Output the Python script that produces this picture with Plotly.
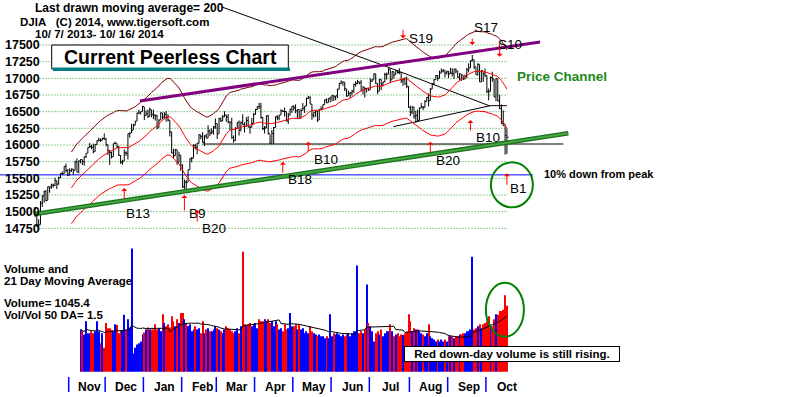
import numpy as np
import pandas as pd
import plotly.graph_objects as go

# ---------------- DATA (DJIA daily, 10/7/2013 - 10/16/2014) ----------------
c_oct13 = [14936,14776,14802,15126,15237,15301,15168,15373,15371,15399,15392,15467,15413,15509,15570,15568,15680,15618,15546]
c_nov13 = [15615,15639,15618,15746,15593,15761,15783,15751,15822,15876,15962,15976,15968,15900,16009,16065,16073,16072,16097,16086]
c_dec13 = [16008,15915,15889,15822,16020,16025,15973,15844,15740,15755,15884,15875,16168,16180,16221,16295,16358,16479,16479,16505,16577]
c_jan14 = [16441,16470,16425,16531,16462,16445,16437,16257,16374,16482,16418,16459,16415,16374,16198,15880,15838,15929,15739,15849,15699]
c_feb14 = [15373,15445,15441,15629,15794,15801,15994,15964,16027,16154,16130,16040,16134,16104,16208,16179,16198,16272,16322]
c_mar14 = [16168,16395,16361,16422,16453,16419,16351,16341,16109,16066,16247,16337,16223,16332,16303,16277,16368,16268,16264,16324,16458]
c_apr14 = [16533,16573,16572,16413,16246,16257,16438,16171,16027,16174,16263,16425,16409,16449,16514,16502,16501,16361,16448,16535,16581]
c_may14 = [16559,16513,16531,16402,16518,16551,16584,16696,16716,16614,16447,16491,16512,16374,16533,16543,16606,16676,16633,16699,16717]
c_jun14 = [16743,16722,16738,16836,16924,16943,16945,16843,16734,16776,16781,16808,16907,16921,16947,16937,16818,16868,16846,16851,16827]
c_jul14 = [16956,16976,17068,16925,16806,16985,16915,16944,17055,17061,17138,16977,17100,17052,17114,17087,17084,16961,16983,16913,16881,16563]
c_aug14 = [16493,16570,16430,16444,16369,16554,16570,16561,16652,16714,16663,16839,16920,16980,17040,17001,17077,17107,17122,17080,17098]
c_sep14 = [17068,17079,17070,17138,17112,17014,17068,17050,16988,17032,17131,17157,17266,17280,17173,17056,17211,16946,17113,17071,17043]
c_oct14 = [16805,16801,17009,16992,16720,16995,16660,16544,16321,16316,16142,16117]

h_oct13 = [15072,14946,14885,15160,15248,15316,15326,15376,15373,15420,15420,15510,15465,15525,15580,15604,15680,15721,15640]
h_nov13 = [15651,15647,15640,15764,15797,15765,15783,15780,15825,15876,15962,16030,16004,16020,16015,16066,16110,16097,16109,16174]
h_dec13 = [16107,16005,15926,15900,16021,16051,16025,15989,15849,15777,15934,15904,16168,16190,16318,16318,16361,16484,16529,16505,16588]
h_jan14 = [16573,16519,16532,16562,16529,16530,16462,16453,16383,16489,16481,16493,16511,16460,16373,16197,15942,15942,15928,15898,15848]
h_feb14 = [15708,15481,15478,15631,15798,15818,16012,16018,16031,16163,16153,16193,16148,16169,16296,16234,16250,16284,16398]
h_mar14 = [16320,16407,16413,16450,16505,16452,16465,16351,16410,16143,16269,16343,16368,16354,16461,16341,16417,16431,16284,16404,16479]
h_apr14 = [16540,16583,16632,16631,16422,16285,16440,16452,16160,16227,16270,16427,16447,16451,16535,16527,16562,16500,16483,16544,16581]
h_may14 = [16599,16611,16531,16531,16547,16631,16584,16712,16736,16729,16612,16491,16513,16512,16542,16580,16607,16682,16700,16700,16718]
h_jun14 = [16743,16743,16738,16845,16933,16970,16947,16944,16844,16817,16792,16828,16920,16956,16978,16951,16977,16879,16867,16855,16860]
h_jul14 = [17003,16993,17074,17067,16924,16988,16986,16951,17083,17088,17152,17138,17106,17099,17123,17122,17151,17077,16995,17015,17027,16880]
h_aug14 = [16589,16583,16572,16514,16530,16562,16631,16585,16673,16719,16774,16856,16928,16988,17049,17050,17115,17147,17136,17123,17115]
h_sep14 = [17111,17157,17154,17141,17148,17111,17073,17061,17049,17057,17158,17224,17267,17350,17280,17172,17225,17208,17125,17105,17148]
h_oct14 = [17042,16847,17027,17099,16990,17000,16995,16755,16607,16519,16311,16250]

l_oct13 = [14926,14772,14719,14805,15070,15133,15152,15170,15284,15342,15360,15385,15340,15405,15505,15550,15570,15587,15533]
l_nov13 = [15545,15594,15550,15620,15593,15576,15725,15700,15690,15805,15880,15960,15935,15875,15900,16002,16055,16044,16069,16080]
l_dec13 = [15980,15849,15703,15800,15822,16018,15950,15836,15718,15703,15760,15838,15783,16110,16180,16225,16294,16360,16468,16457,16504]
l_jan14 = [16375,16440,16405,16426,16416,16388,16368,16236,16259,16374,16385,16391,16350,16353,16128,15879,15796,15838,15703,15739,15610]
l_feb14 = [15356,15341,15340,15443,15630,15739,15801,15930,15864,16020,16086,16035,15983,16100,16104,16135,16163,16155,16242]
l_mar14 = [16090,16168,16346,16360,16420,16348,16323,16227,16094,16034,16066,16246,16142,16206,16303,16186,16280,16266,16169,16265,16325]
l_apr14 = [16458,16523,16539,16394,16223,16173,16249,16155,16015,16029,16015,16263,16370,16372,16450,16497,16429,16353,16316,16446,16480]
l_may14 = [16514,16476,16391,16402,16402,16518,16481,16584,16690,16613,16378,16407,16423,16345,16374,16527,16543,16606,16632,16634,16637]
l_jun14 = [16653,16659,16671,16702,16837,16912,16886,16808,16725,16735,16705,16743,16780,16874,16914,16912,16807,16759,16713,16787,16812]
l_jul14 = [16828,16947,16980,16917,16763,16806,16825,16886,16944,16981,17061,16928,16979,16998,17052,17073,17062,16931,16885,16910,16852,16563]
l_aug14 = [16433,16464,16393,16333,16348,16369,16554,16522,16561,16651,16579,16664,16839,16896,16979,16961,17001,17077,17087,17015,17056]
l_sep14 = [17006,17069,17031,16992,17075,17010,16967,16961,16974,16987,17002,17090,17157,17252,17138,17055,17040,16946,16946,16945,17020]
l_oct14 = [16776,16671,16805,16947,16719,16660,16655,16540,16321,16282,15855,15865]

# volume (first drawn bar is trading day #25)
VOL_START = 25
v_nov13 = [670,640,590,800,610,610,640,610,640,800,640,450,610,380]
v_dec13 = [770,690,690,660,640,750,740,610,660,660,900,670,830,700,1950,290,380,430,450,480,590]
v_jan14 = [620,670,700,670,670,670,750,670,690,640,910,770,720,750,700,880,800,720,830,770,930]
v_feb14 = [930,830,770,720,750,640,670,720,670,690,610,800,610,670,690,640,640,670,720]
v_mar14 = [690,670,640,610,670,720,690,670,640,610,640,690,610,720,1900,750,720,750,770,720,750]
v_apr14 = [770,690,830,800,800,830,800,830,770,800,720,800,750,670,690,640,750,670,690,930,720]
v_may14 = [720,750,670,750,670,690,610,640,610,720,640,610,590,560,590,560,560,530,560,530,910]
v_jun14 = [560,610,590,610,590,560,590,560,590,610,560,610,640,640,1680,610,640,610,670,1380,770]
v_jul14 = [720,640,480,610,640,590,670,560,610,640,640,750,640,560,590,610,560,590,580,610,640,910]
v_aug14 = [800,640,690,670,670,640,610,590,560,610,750,560,530,510,480,510,480,510,480,510,480]
v_sep14 = [560,560,560,530,560,560,590,590,610,610,640,640,670,1820,670,690,720,750,690,750,770]
v_oct14 = [800,880,750,720,830,910,900,960,960,980,1210,1045.4]

closes = c_oct13+c_nov13+c_dec13+c_jan14+c_feb14+c_mar14+c_apr14+c_may14+c_jun14+c_jul14+c_aug14+c_sep14+c_oct14
highs = h_oct13+h_nov13+h_dec13+h_jan14+h_feb14+h_mar14+h_apr14+h_may14+h_jun14+h_jul14+h_aug14+h_sep14+h_oct14
lows = l_oct13+l_nov13+l_dec13+l_jan14+l_feb14+l_mar14+l_apr14+l_may14+l_jun14+l_jul14+l_aug14+l_sep14+l_oct14
volumes = v_nov13+v_dec13+v_jan14+v_feb14+v_mar14+v_apr14+v_may14+v_jun14+v_jul14+v_aug14+v_sep14+v_oct14

month_names = ["Nov","Dec","Jan","Feb","Mar","Apr","May","Jun","Jul","Aug","Sep","Oct"]
month_first_day = [19,39,60,81,100,121,142,163,184,206,227,248]
price_ticks = [17500,17250,17000,16750,16500,16250,16000,15750,15500,15250,15000,14750]

# Peerless signals: name, trading-day index, arrow tip level
sig_names = ["B13","B9","B20","B18","B10","B20","B10","B1","S19","S17","S10"]
sig_days  = [49,82,89,136,150,217,239,259,202,240,255]
sig_level = [15355,15250,15025,15750,16050,16050,16375,15575,17600,17500,17325]

# hand-drawn trend lines (trading-day index, level)
chan_top_x, chan_top_y = [57.6, 277.2], [16660, 17545]
chan_bot_x, chan_bot_y = [0, 292.7], [14965, 16175]
support_x, support_y = [92, 290], [16015, 16015]
wedge_x, wedge_y = [196.7, 250, 259], [16275, 16590, 16590]
pointer_x, pointer_y = [102.6, 192.1, 249.7], [18070, 17185, 16585]
PEAK_DROP = 0.10

# ---------------- STYLE / GEOMETRY ----------------
W, H = 800, 397
X0_PX, PX_PER_DAY = 35.0, 1.822
PRICE_PX = 240
PRICE_RANGE = [14575, 18175]
VOL_RANGE = [-400, 2085]
BAND = 0.035
GRID_X = (2.5, 259.5)
FONT = "Liberation Sans, Arial, sans-serif"
RED, BLUE, MAROON = "#ff0000", "#0000ff", "#800000"
GREEN = "#1a8a1a"

def px_to_paper_y(py):
    return 1 - py / H

n = len(closes)
days = np.arange(n)
x_range = [-X0_PX / PX_PER_DAY, (W - X0_PX) / PX_PER_DAY]

fig = go.Figure()

# dotted grid
gx, gy = [], []
for t in price_ticks:
    gx += [GRID_X[0], GRID_X[1], None]
    gy += [t, t, None]
fig.add_trace(go.Scatter(x=gx, y=gy, mode="lines",
                         line=dict(color="#2e9a2e", width=1, dash="1px,2px"), hoverinfo="skip"))

# 10% down from peak line
drop_level = max(closes) * (1 - PEAK_DROP)
fig.add_trace(go.Scatter(x=[x_range[0], 273.3], y=[drop_level, drop_level], mode="lines",
                         line=dict(color=BLUE, width=1)))

# support / wedge / pointer lines
for lx, ly in [(support_x, support_y), (wedge_x, wedge_y), (pointer_x, pointer_y)]:
    fig.add_trace(go.Scatter(x=lx, y=ly, mode="lines", line=dict(color="black", width=1)))

# price bars (high-low with close tick)
bx, by = [], []
for i in range(n):
    bx += [i, i, None, i, i + 0.9, None]
    by += [lows[i], highs[i], None, closes[i], closes[i], None]
fig.add_trace(go.Scatter(x=bx, y=by, mode="lines", line=dict(color="black", width=1)))

# moving average and bands
ma21 = pd.Series(closes, dtype=float).rolling(21).mean()
fig.add_trace(go.Scatter(x=days, y=ma21 * (1 + BAND), mode="lines", line=dict(color=MAROON, width=1)))
fig.add_trace(go.Scatter(x=days, y=ma21, mode="lines", line=dict(color=RED, width=1)))
fig.add_trace(go.Scatter(x=days, y=ma21 * (1 - BAND), mode="lines", line=dict(color=RED, width=1)))

# price channel
fig.add_trace(go.Scatter(x=chan_top_x, y=chan_top_y, mode="lines", line=dict(color="#800080", width=3)))
fig.add_trace(go.Scatter(x=chan_bot_x, y=chan_bot_y, mode="lines", line=dict(color="#1f6f1f", width=4.5)))
fig.add_trace(go.Scatter(x=chan_bot_x, y=chan_bot_y, mode="lines", line=dict(color="#3fa83f", width=2)))

# volume
vdays = np.arange(VOL_START, VOL_START + len(volumes))
vcol = [RED if closes[d] < closes[d - 1] else BLUE for d in vdays]
fig.add_trace(go.Bar(x=vdays, y=volumes, width=0.55, marker=dict(color=vcol, line_width=0), yaxis="y2"))
vma = pd.Series(volumes, dtype=float).rolling(21, min_periods=1).mean()
fig.add_trace(go.Scatter(x=vdays, y=vma, mode="lines", line=dict(color="black", width=1), yaxis="y2"))

# month separators
sx, sy = [], []
for m in month_first_day:
    sx += [m - 0.5, m - 0.5, None]
    sy += [-84, -321, None]
fig.add_trace(go.Scatter(x=sx, y=sy, mode="lines", line=dict(color=BLUE, width=1.5), yaxis="y2"))

annotations = []
def txt(x, y, s, size=12, color="black", xanchor="left", bold=True, **kw):
    d = dict(x=x / W, y=px_to_paper_y(y), xref="paper", yref="paper", text=s, showarrow=False,
             xanchor=xanchor, yanchor="middle",
             font=dict(family=FONT, size=size, color=color, weight="bold" if bold else "normal"))
    d.update(kw)
    annotations.append(d)

txt(33, 7.5, "Last drawn moving average= 200")
txt(18, 21.5, "DJIA\u00a0\u00a0\u00a0(C) 2014, www.tigersoft.com", size=11.5)
txt(33, 34.5, "10/ 7/ 2013- 10/ 16/ 2014", size=11.5)
txt(170, 57, "Current Peerless Chart", size=19.5, xanchor="center")
txt(562, 77, "Price Channel", size=13.5, color=GREEN, xanchor="center")
txt(599, 174, "10% down from peak", size=11, xanchor="center")
txt(2, 269, "Volume and", size=11.5)
txt(2, 281, "21 Day Moving Average", size=11.5)
txt(2, 303, "Volume= 1045.4", size=11.5)
txt(2, 315, "Vol/Vol 50 DA= 1.5", size=11.5)
txt(512, 354, "Red down-day volume is still rising.", size=11.5, xanchor="center",
    bordercolor="black", borderwidth=1, bgcolor="white", borderpad=1, width=212, height=12)

for name, m in zip(month_names, month_first_day):
    annotations.append(dict(x=m + 11, y=px_to_paper_y(387), xref="x", yref="paper", text=name,
                            showarrow=False, xanchor="center", yanchor="middle",
                            font=dict(family=FONT, size=12, color="black", weight="bold")))

# signal arrows and labels (pixel offsets are style)
arrow_len = [12, 17, 13, 13, 11, 12, 12, 13, 10, 8, 15]
label_off = [(14, 25), (13, 18), (17, 18), (17, 18), (18, 18), (18, 19), (18, 17), (12, 15), (18, 0), (14, -18), (10, -12)]
for name, d, lv, al, (dx, dy) in zip(sig_names, sig_days, sig_level, arrow_len, label_off):
    buy = name.startswith("B")
    annotations.append(dict(x=d, y=lv, xref="x", yref="y", text="", showarrow=True,
                            ax=0, ay=al if buy else -al, axref="pixel", ayref="pixel",
                            arrowhead=1, arrowsize=1, arrowwidth=1, arrowcolor=RED, standoff=0))
    annotations.append(dict(x=d, y=lv, xref="x", yref="y", text=name, showarrow=False,
                            xshift=dx, yshift=-dy, xanchor="center", yanchor="middle",
                            font=dict(family=FONT, size=13.5, color="black")))

shapes = [
    dict(type="rect", xref="paper", yref="paper", x0=51.7 / W, x1=288.3 / W,
         y0=px_to_paper_y(69), y1=px_to_paper_y(45), line=dict(color="black", width=1),
         fillcolor="white", layer="above"),
    dict(type="rect", xref="paper", yref="paper", x0=53 / W, x1=290 / W,
         y0=px_to_paper_y(71), y1=px_to_paper_y(67.5), line=dict(width=0),
         fillcolor="#008080", layer="above"),
    dict(type="circle", xref="x", yref="y", xsizemode="pixel", ysizemode="pixel",
         xanchor=sig_days[7], yanchor=sig_level[7], x0=-16, x1=26, y0=-34, y1=11,
         line=dict(color="#008000", width=2), layer="above"),
    dict(type="circle", xref="x", yref="y2", xsizemode="pixel", ysizemode="pixel",
         xanchor=int(vdays[-1]), yanchor=volumes[-1], x0=-21, x1=17, y0=-31, y1=23,
         line=dict(color="#008000", width=2), layer="above"),
]

fig.update_layout(
    width=W, height=H, margin=dict(l=0, r=0, t=0, b=0),
    paper_bgcolor="white", plot_bgcolor="white", showlegend=False, hovermode=False,
    xaxis=dict(domain=[0, 1], range=x_range, visible=False, fixedrange=True),
    yaxis=dict(domain=[1 - PRICE_PX / H, 1], range=PRICE_RANGE, anchor="x",
               tickvals=price_ticks, ticktext=[str(t) for t in price_ticks],
               ticklabelposition="inside", ticks="", showgrid=False, zeroline=False,
               showline=False, fixedrange=True, ticklabelstandoff=2,
               tickfont=dict(family=FONT, size=12.5, color="black", weight="bold")),
    yaxis2=dict(domain=[0, 1 - PRICE_PX / H], range=VOL_RANGE, anchor="x", visible=False,
                fixedrange=True),
    annotations=annotations, shapes=shapes,
)

fig.write_html("out.html", config={"displayModeBar": False},
               post_script="document.body.style.margin='0';")
